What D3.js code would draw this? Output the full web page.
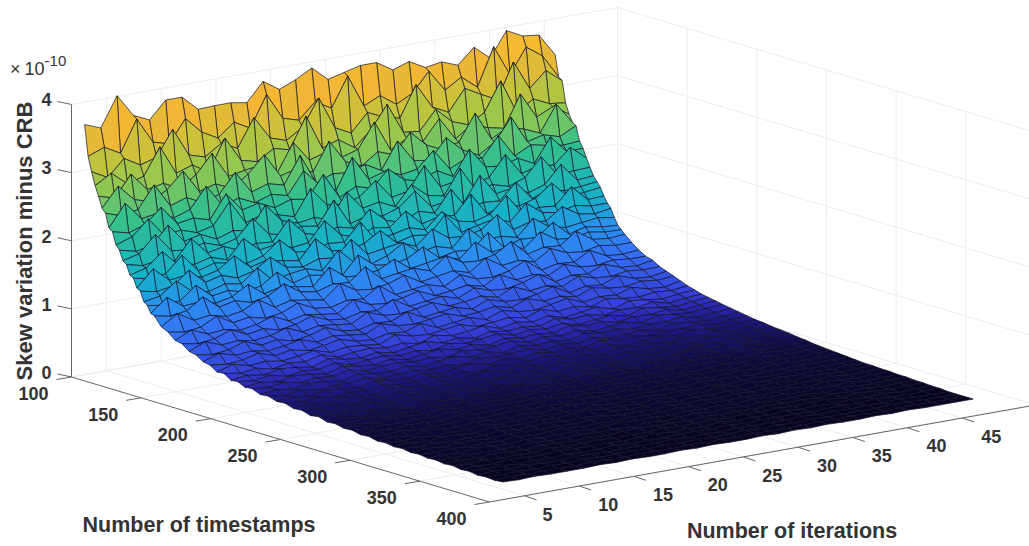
<!DOCTYPE html>
<html>
<head>
<meta charset="utf-8">
<script src="https://cdn.jsdelivr.net/npm/d3@7"></script>
<style>
  body { margin: 0; background: #fff; overflow: hidden; }
  text { font-family: "Liberation Sans", Arial, sans-serif; fill: #333; }
</style>
</head>
<body>
<svg id="chart" width="1029" height="546"></svg>
<script>
const timestampTicks = [100, 150, 200, 250, 300, 350, 400];
const iterationTicks = [5, 10, 15, 20, 25, 30, 35, 40, 45];
const skewTicks = [0, 1, 2, 3, 4];

// rows of the surface, denser where it is steep
const timestamps = [100,102.5,105,107.5,110,112.5,115,117.5,120,122.5,125,127.5,130,132.5,135,137.5,140,142.5,145,147.5,150,
  155,160,165,170,175,180,185,190,195,200,205,210,215,220,
  226,232,238,244,250,256,262,268,274,280,286,292,298,304,310,316,322,328,334,340,346,352,358,364,370,376,382,388,394,400];
// 30 columns between iteration 3 and 46
const iterations = d3.range(30).map(j => 3 + j * 43 / 29);

// skew values, in units of 1e-12
const skew = [
[367,358,401,368,357,382,382,360,361,361,357,384,368,378,391,370,376,382,382,367,375,362,366,357,379,359,395,383,380,347],
[322,331,318,364,326,319,352,328,315,334,321,366,327,320,343,329,372,324,335,318,330,358,326,341,322,377,332,368,351,316],
[301,288,312,298,305,342,300,293,309,297,338,304,296,311,350,302,290,316,305,299,344,307,295,326,313,301,352,309,331,312],
[282,296,276,283,322,279,287,272,318,281,275,290,284,329,278,286,270,292,325,280,277,305,283,274,288,330,279,295,284,281],
[268,261,292,265,270,258,274,301,263,268,271,255,296,266,273,262,269,305,260,272,264,293,259,276,267,262,308,270,281,266],
[252,280,256,249,262,285,251,258,247,264,288,253,259,250,291,257,246,263,254,283,260,249,256,294,252,265,258,248,286,255],
[246,238,243,275,240,248,236,244,272,239,247,241,280,235,245,242,250,237,276,243,239,268,246,234,249,281,241,247,240,252],
[226,258,231,235,224,232,262,229,236,225,233,227,259,234,222,266,230,237,228,232,255,224,235,231,260,226,238,233,229,231],
[222,216,224,245,217,221,214,248,220,226,215,223,219,251,213,225,218,242,222,216,227,214,250,220,217,224,212,247,221,222],
[204,212,234,205,209,201,207,238,203,210,206,199,236,208,204,211,231,202,207,240,205,209,198,206,235,203,210,207,229,209],
[198,192,196,222,194,200,189,197,193,226,199,191,195,188,224,196,201,190,218,198,193,229,192,197,190,199,225,194,196,197],
[184,190,214,186,183,189,181,187,212,185,180,188,184,218,179,186,182,190,210,183,187,180,216,185,189,178,186,211,184,186],
[180,174,178,173,201,176,181,171,177,175,204,179,172,180,174,198,177,170,182,175,206,173,178,176,199,171,180,174,176,179],
[166,172,192,168,165,171,163,190,169,173,164,167,195,170,162,172,168,188,165,171,169,196,163,170,166,173,191,167,169,172],
[163,158,161,184,157,164,160,155,162,181,159,156,163,161,186,154,160,165,158,180,162,157,164,187,156,161,159,183,160,161],
[150,174,153,156,149,155,172,151,157,152,148,176,154,150,156,171,149,155,152,177,147,153,158,150,173,155,151,157,152,152],
[147,142,146,165,143,149,141,147,163,144,140,148,145,168,142,146,150,141,162,145,143,148,166,140,147,144,161,146,142,146],
[133,137,155,135,131,138,134,153,130,136,139,132,158,135,129,137,152,133,138,131,156,134,136,130,154,137,132,135,138,134],
[129,125,127,146,126,130,123,128,144,124,131,127,122,148,129,125,130,143,123,128,126,147,121,129,127,145,124,130,126,124],
[119,138,121,123,117,122,136,118,124,120,116,140,122,119,123,135,117,121,125,118,139,120,123,117,137,122,119,124,120,119],
[117,112,116,132,113,118,111,116,130,114,110,117,115,134,112,116,119,111,129,115,113,118,133,110,116,114,131,115,112,114],
[104,119,105,108,102,106,118,103,109,105,101,121,107,104,108,116,102,106,110,103,120,105,108,102,117,107,104,109,105,105],
[99,95,98,110,96,100,94,98,108,96,93,99,97,112,95,98,101,94,107,97,95,100,111,93,98,96,109,97,95,97],
[90,101,91,93,88,92,100,89,94,90,87,103,92,89,93,99,88,91,95,89,102,90,93,88,100,92,90,94,91,91],
[88,84,87,96,85,89,83,87,95,85,82,88,86,98,84,87,90,83,94,86,84,89,97,82,87,85,95,86,84,88],
[80,90,81,83,79,82,89,79,84,81,78,91,82,80,83,88,79,81,85,79,90,80,83,78,89,82,80,84,81,82],
[78,74,77,85,75,79,73,77,84,75,72,78,76,86,74,77,80,73,83,76,74,78,85,72,77,75,84,76,74,78],
[71,79,72,74,70,73,78,70,75,72,69,80,73,71,74,78,70,72,76,70,79,71,74,69,78,73,71,75,72,74],
[69,66,68,74,66,70,65,68,73,66,64,69,67,75,65,68,71,64,73,67,65,69,74,64,68,66,73,67,65,70],
[62,69,63,65,61,64,68,61,65,63,60,70,64,62,65,68,61,63,66,61,69,62,65,60,68,64,62,65,63,66],
[63,59,62,57,61,59,65,57,60,62,58,61,56,64,59,61,65,57,62,58,63,56,60,63,56,64,61,58,61,63],
[56,59,55,60,58,54,62,57,55,59,54,58,62,56,59,54,60,56,58,55,62,57,59,54,58,57,61,55,58,60],
[57,54,58,52,56,54,59,52,55,57,53,56,52,58,54,56,60,53,57,54,58,52,55,57,52,59,56,53,56,58],
[52,55,51,56,54,50,57,53,51,55,50,54,57,52,55,50,56,52,54,51,58,53,55,50,54,53,56,51,54,56],
[53,50,54,49,52,50,55,49,52,53,50,52,48,54,50,52,55,49,53,50,54,48,51,53,48,55,52,50,52,54],
[48,51,47,52,50,46,53,49,48,51,47,50,53,48,51,46,52,48,50,47,53,49,51,47,50,49,52,47,50,52],
[49,46,50,45,48,47,51,45,48,49,46,48,45,50,47,48,51,45,49,46,50,45,47,49,45,51,48,46,48,50],
[45,48,44,49,47,44,50,46,45,48,44,47,50,45,48,44,49,45,47,44,50,46,48,44,47,46,49,44,47,48],
[46,44,47,43,45,44,48,43,45,47,43,46,42,47,44,45,48,43,46,44,47,42,45,47,43,48,45,43,46,46],
[42,45,41,46,44,41,47,43,42,45,41,44,47,42,45,41,46,43,44,41,47,43,45,41,44,43,46,41,44,45],
[43,41,44,40,42,41,45,40,42,43,40,43,39,44,41,42,45,40,43,41,44,40,42,44,39,45,42,40,43,43],
[39,42,38,43,41,38,44,40,39,42,38,41,44,39,42,38,43,40,41,38,44,40,42,38,41,40,43,38,41,42],
[41,39,41,38,40,39,42,38,40,41,38,40,37,42,39,40,42,38,41,39,41,38,39,41,37,42,40,38,40,41],
[37,39,36,40,38,36,41,38,37,39,36,38,41,37,39,36,40,37,38,36,41,38,39,36,38,38,40,36,38,39],
[38,36,38,35,37,36,39,35,37,38,35,37,35,39,36,37,39,35,38,36,38,35,37,38,35,39,37,35,37,38],
[35,37,34,38,36,34,38,35,35,37,34,36,38,35,37,34,37,35,36,34,38,36,37,34,36,35,38,34,36,36],
[36,34,36,33,35,34,37,33,35,36,33,35,33,36,34,35,37,33,36,34,36,33,34,36,33,37,35,33,35,35],
[33,35,32,35,34,32,36,34,33,35,32,34,36,33,35,32,35,33,34,32,36,33,35,32,34,33,35,32,34,34],
[34,32,34,31,33,32,35,31,33,34,32,33,31,35,32,33,35,31,34,32,34,31,33,34,31,35,33,32,33,33],
[31,33,30,34,32,30,34,32,31,33,30,32,34,31,33,30,33,31,32,30,34,32,33,30,32,31,33,31,32,32],
[32,30,32,29,31,30,33,30,31,32,30,31,29,33,30,31,33,30,32,30,32,29,31,32,29,33,31,30,31,31],
[30,32,29,32,31,29,33,30,30,32,29,31,33,30,31,29,32,30,31,29,33,30,32,29,31,30,32,29,31,30],
[31,29,31,28,30,29,32,29,30,31,29,30,28,31,29,30,32,28,31,29,31,28,30,31,28,32,30,29,30,30],
[29,31,28,31,30,28,31,30,29,30,28,30,32,29,30,28,31,29,30,28,31,29,30,28,30,29,31,28,29,29],
[30,28,30,28,29,28,31,28,29,30,28,29,27,30,28,29,31,28,30,28,30,27,29,30,27,31,29,28,29,29],
[28,29,27,30,29,27,30,28,28,29,27,29,30,28,29,27,30,28,29,27,30,28,29,27,29,28,30,27,28,28],
[29,27,29,27,28,27,30,27,28,29,27,28,26,29,27,28,30,27,29,27,29,27,28,29,26,30,28,27,28,28],
[27,28,26,29,28,26,29,28,27,28,26,28,29,27,28,26,29,27,28,26,29,27,28,26,28,27,29,26,27,27],
[28,26,28,26,27,26,29,26,27,28,26,27,26,28,26,27,29,26,28,26,28,26,27,28,26,29,27,26,27,27],
[26,27,26,28,27,26,28,27,26,27,25,27,28,26,27,25,28,26,27,25,28,26,27,25,27,26,28,25,26,26],
[27,26,27,25,26,25,27,25,26,27,25,26,25,27,26,26,28,25,27,25,27,25,26,27,25,28,26,25,26,26],
[25,27,25,27,26,25,27,26,25,26,25,26,27,25,26,25,27,25,26,25,27,25,26,25,26,25,27,25,25,25],
[26,25,26,25,26,25,27,25,26,26,25,26,25,26,25,26,27,25,26,25,26,25,25,26,25,27,26,25,25,25],
[25,26,25,26,25,25,26,25,25,26,25,25,26,25,26,25,26,25,25,25,26,25,26,25,25,25,26,25,25,25],
[26,25,26,25,25,25,26,25,26,25,25,26,25,26,25,25,26,25,26,25,26,25,25,26,25,26,25,25,25,25]
];

const colorStops = [25, 34, 45, 53, 61, 96, 124, 162, 227, 277, 317, 357, 407];
const colorRange = ["#07041f", "#0d0a3a", "#1a1678", "#2b26b0", "#3540d8", "#3570f5", "#2a90ee",
  "#17b0c8", "#2fbf90", "#8ec850", "#c9c23a", "#f2b634", "#fbc52e"];

const svg = d3.select("#chart");

// orthographic view of the box: each data axis moves the point along its own screen direction
const originX = 71.5, originY = 377;
const iterDomain = [1.8, 51.7], timeDomain = [100, 400], skewDomain = [0, 4];
const tX = d3.scaleLinear().domain(timeDomain).range([0, 418]);
const tY = d3.scaleLinear().domain(timeDomain).range([0, 125]);
const iX = d3.scaleLinear().domain(iterDomain).range([0, 546]);
const iY = d3.scaleLinear().domain(iterDomain).range([0, -97]);
const zY = d3.scaleLinear().domain(skewDomain).range([0, -272.5]);
const color = d3.scaleLinear().domain(colorStops).range(colorRange);

function project(t, i, z) {
    return [originX + tX(t) + iX(i), originY + tY(t) + iY(i) + zY(z)];
}

function segment(a, b, stroke, width) {
    svg.append("line")
        .attr("x1", a[0]).attr("y1", a[1])
        .attr("x2", b[0]).attr("y2", b[1])
        .attr("stroke", stroke)
        .attr("stroke-width", width);
}

const iMin = iterDomain[0], iMax = iterDomain[1];
const tMin = timeDomain[0], tMax = timeDomain[1];
const gridColor = "#ededed";

// back walls and floor grid
skewTicks.forEach(z => {
    segment(project(tMin, iMin, z), project(tMin, iMax, z), gridColor, 1);
    segment(project(tMin, iMax, z), project(tMax, iMax, z), gridColor, 1);
});
iterationTicks.forEach(i => {
    segment(project(tMin, i, 0), project(tMin, i, 4), gridColor, 1);
    segment(project(tMin, i, 0), project(tMax, i, 0), gridColor, 1);
});
timestampTicks.forEach(t => {
    segment(project(t, iMax, 0), project(t, iMax, 4), gridColor, 1);
    segment(project(t, iMin, 0), project(t, iMax, 0), gridColor, 1);
});

// surface, painted from the far corner to the near one
const cells = [];
for (let r = 0; r < timestamps.length - 1; r++) {
    for (let c = iterations.length - 2; c >= 0; c--) {
        const corners = [[r, c], [r, c + 1], [r + 1, c + 1], [r + 1, c]];
        cells.push({
            points: corners.map(p => project(timestamps[p[0]], iterations[p[1]], skew[p[0]][p[1]] / 100)),
            value: d3.mean(corners, p => skew[p[0]][p[1]])
        });
    }
}

svg.append("g").attr("class", "surface")
    .selectAll("path")
    .data(cells)
    .enter()
    .append("path")
    .attr("d", d => "M" + d.points.join("L") + "Z")
    .attr("fill", d => color(d.value))
    .attr("stroke", "#12122a")
    .attr("stroke-width", 0.7)
    .attr("stroke-linejoin", "round");

// outer axes
const axisColor = "#666";
segment(project(tMin, iMin, 0), project(tMin, iMin, 4), axisColor, 1);
segment(project(tMin, iMin, 0), project(tMax, iMin, 0), axisColor, 1);
segment(project(tMax, iMin, 0), project(tMax, iMax, 0), axisColor, 1);

const labelFont = 18;

skewTicks.forEach(z => {
    const p = project(tMin, iMin, z);
    segment(p, [p[0] - 14, p[1] - 3], axisColor, 1);
    svg.append("text").attr("x", p[0] - 25).attr("y", p[1] - 3)
        .attr("text-anchor", "middle").attr("dominant-baseline", "middle")
        .attr("font-size", labelFont).attr("font-weight", "bold").text(z);
});

timestampTicks.forEach(t => {
    const p = project(t, iMin, 0);
    segment(p, [p[0] - 15, p[1] + 2.5], axisColor, 1);
    svg.append("text").attr("x", p[0] - 38).attr("y", p[1] + 18)
        .attr("text-anchor", "middle").attr("dominant-baseline", "middle")
        .attr("font-size", labelFont).attr("font-weight", "bold").text(t);
});

iterationTicks.forEach(i => {
    const p = project(tMax, i, 0);
    segment(p, [p[0] + 12, p[1] + 4], axisColor, 1);
    svg.append("text").attr("x", p[0] + (i < 10 ? 23 : 29)).attr("y", p[1] + 20)
        .attr("text-anchor", "middle").attr("dominant-baseline", "middle")
        .attr("font-size", labelFont).attr("font-weight", "bold").text(i);
});

// titles
svg.append("text").attr("x", 199).attr("y", 532)
    .attr("text-anchor", "middle")
    .attr("font-size", 21.5).attr("font-weight", "bold")
    .text("Number of timestamps");

svg.append("text").attr("x", 792).attr("y", 538)
    .attr("text-anchor", "middle")
    .attr("font-size", 21.5).attr("font-weight", "bold")
    .text("Number of iterations");

svg.append("text")
    .attr("transform", "translate(32,241) rotate(-90)")
    .attr("text-anchor", "middle")
    .attr("font-size", 22).attr("font-weight", "bold")
    .text("Skew variation minus CRB");

const exponent = svg.append("text").attr("x", 10).attr("y", 75).attr("font-size", 18);
exponent.append("tspan").text("\u00d7");
exponent.append("tspan").attr("dx", 4).text("10");
exponent.append("tspan").attr("dy", -9).attr("font-size", 15).text("-10");
</script>
</body>
</html>
